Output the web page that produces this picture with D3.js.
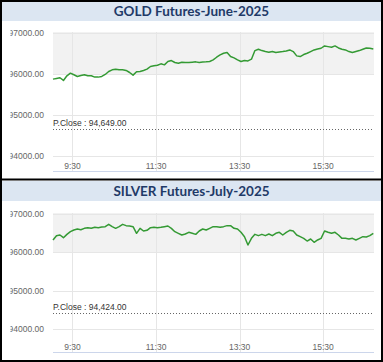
<!DOCTYPE html>
<html>
<head>
<meta charset="utf-8">
<script src="https://cdn.jsdelivr.net/npm/d3@7"></script>
<style>
  body { margin: 0; background: #fff; }
  svg { display: block; }
</style>
</head>
<body>
<svg id="chart" width="383" height="362"></svg>
<script>
// MCX gold / silver intraday snapshot, two stacked panels

var startTime = "9:02";      // first print, 5 minute bars
var stepMinutes = 5;
var yTicks = [94000, 95000, 96000, 97000];
var xTicks = ["9:30", "11:30", "13:30", "15:30"];

var goldTitle = "GOLD Futures-June-2025";
var goldPClose = 94649;
var goldValues = [
  95875, 95892, 95908, 95843, 95956, 96021, 95981, 95940, 95964, 95981,
  95956, 95956, 95924, 95924, 95940, 95989, 96062, 96102, 96118, 96102,
  96102, 96086, 96037, 95972, 96053, 96062, 96086, 96118, 96183, 96199,
  96215, 96248, 96223, 96304, 96328, 96280, 96264, 96288, 96280, 96280,
  96288, 96296, 96280, 96290, 96296, 96304, 96345, 96409, 96466, 96506,
  96523, 96426, 96393, 96345, 96304, 96328, 96320, 96361, 96571, 96604,
  96571, 96547, 96531, 96547, 96523, 96539, 96547, 96563, 96587, 96547,
  96442, 96426, 96474, 96506, 96547, 96587, 96612, 96628, 96685, 96668,
  96652, 96685, 96636, 96604, 96587, 96547, 96523, 96547, 96571, 96604,
  96636, 96628, 96612
];

var silverTitle = "SILVER Futures-July-2025";
var silverPClose = 94424;
var silverValues = [
  96322, 96435, 96452, 96382, 96469, 96539, 96582, 96609, 96591, 96626,
  96643, 96626, 96652, 96643, 96661, 96670, 96730, 96670, 96626, 96670,
  96730, 96696, 96687, 96670, 96496, 96626, 96556, 96574, 96643, 96652,
  96643, 96652, 96670, 96687, 96626, 96539, 96496, 96452, 96478, 96522,
  96496, 96469,
  96556, 96609, 96582, 96626, 96670, 96670, 96652, 96670, 96696, 96696,
  96626, 96609, 96522, 96408, 96191, 96365, 96469, 96435, 96469, 96435,
  96478, 96435, 96496, 96522, 96452, 96522, 96574, 96556, 96452, 96408,
  96365, 96295, 96348, 96261, 96322, 96365, 96556, 96522, 96496, 96522,
  96452, 96365, 96365, 96348, 96365, 96322, 96365, 96408, 96400, 96435,
  96496
];

var parseTime = d3.timeParse("%H:%M");
var fmtPrice = d3.format(".2f");
var fmtClose = d3.format(",.2f");

var svg = d3.select("#chart");

var x = d3.scaleTime()
  .domain([parseTime("9:02"), parseTime("16:43")])
  .range([53, 374]);

function toSeries(values) {
  var t0 = parseTime(startTime);
  return values.map((v, i) => ({ t: d3.timeMinute.offset(t0, i * stepMinutes), v: v }));
}

function drawPanel(opt) {
  var g = svg.append("g");
  var y = d3.scaleLinear().domain([94000, 97000]).range(opt.yRange);

  // title bar
  g.append("rect")
    .attr("x", 2).attr("y", opt.titleTop)
    .attr("width", 379).attr("height", 20)
    .attr("fill", "#dce6f2");
  g.append("text")
    .attr("x", 191.5).attr("y", opt.titleTop + 15)
    .attr("text-anchor", "middle")
    .attr("font-family", "Lato, sans-serif")
    .attr("font-weight", "bold")
    .attr("font-size", 13.5)
    .attr("fill", "#1f3a68")
    .text(opt.title);

  // alternate band on top
  g.append("rect")
    .attr("x", x.range()[0]).attr("y", opt.plotTop)
    .attr("width", x.range()[1] - x.range()[0])
    .attr("height", y(96000) - opt.plotTop)
    .attr("fill", "#f2f2f2");

  // grid
  g.append("g").selectAll("line")
    .data(yTicks).enter().append("line")
    .attr("x1", x.range()[0]).attr("x2", x.range()[1])
    .attr("y1", d => Math.round(y(d)) + 0.5).attr("y2", d => Math.round(y(d)) + 0.5)
    .attr("stroke", "#e6e6e6");
  g.append("g").selectAll("line")
    .data(xTicks).enter().append("line")
    .attr("x1", d => Math.round(x(parseTime(d))) + 0.5).attr("x2", d => Math.round(x(parseTime(d))) + 0.5)
    .attr("y1", opt.plotTop).attr("y2", opt.plotBottom)
    .attr("stroke", "#e6e6e6");

  // x axis line
  g.append("line")
    .attr("x1", x.range()[0]).attr("x2", x.range()[1])
    .attr("y1", opt.plotBottom + 0.5).attr("y2", opt.plotBottom + 0.5)
    .attr("stroke", "#ccd6eb");

  // y labels, cropped at the left like the screenshot
  var clipId = "clip-" + opt.titleTop;
  g.append("clipPath").attr("id", clipId)
    .append("rect").attr("x", 10.5).attr("y", opt.plotTop - 10)
    .attr("width", 42).attr("height", opt.plotBottom - opt.plotTop + 20);
  g.append("g").attr("clip-path", "url(#" + clipId + ")")
    .selectAll("text")
    .data(yTicks).enter().append("text")
    .attr("x", 44).attr("y", d => y(d) + 3)
    .attr("text-anchor", "end")
    .attr("font-family", "Liberation Sans, Arial, sans-serif")
    .attr("font-size", 8.5)
    .attr("fill", "#666")
    .text(d => fmtPrice(d));

  g.append("g").selectAll("text")
    .data(xTicks).enter().append("text")
    .attr("x", d => x(parseTime(d)))
    .attr("y", opt.plotBottom - 2)
    .attr("text-anchor", "middle")
    .attr("font-family", "Liberation Sans, Arial, sans-serif")
    .attr("font-size", 8.5)
    .attr("fill", "#666")
    .text(d => d);

  // previous close
  g.append("line")
    .attr("x1", x.range()[0]).attr("x2", 372)
    .attr("y1", Math.round(y(opt.pclose)) + 0.5).attr("y2", Math.round(y(opt.pclose)) + 0.5)
    .attr("stroke", "#666")
    .attr("stroke-dasharray", "1,2");
  g.append("text")
    .attr("x", x.range()[0]).attr("y", y(opt.pclose) - 3)
    .attr("font-family", "Liberation Sans, Arial, sans-serif")
    .attr("font-size", 8.5)
    .attr("fill", "#333")
    .text("P.Close : " + fmtClose(opt.pclose));

  // price line
  var line = d3.line().x(d => x(d.t)).y(d => y(d.v));
  g.append("path")
    .datum(toSeries(opt.values))
    .attr("d", line)
    .attr("fill", "none")
    .attr("stroke", "#349a34")
    .attr("stroke-width", 1.5)
    .attr("stroke-linejoin", "round");
}

drawPanel({ title: goldTitle, values: goldValues, pclose: goldPClose,
  titleTop: 1, plotTop: 32, plotBottom: 171, yRange: [156, 33] });
drawPanel({ title: silverTitle, values: silverValues, pclose: silverPClose,
  titleTop: 181, plotTop: 213, plotBottom: 352, yRange: [329, 214] });

// frame
svg.append("rect")
  .attr("x", 1).attr("y", 1).attr("width", 381).attr("height", 360)
  .attr("fill", "none").attr("stroke", "#000").attr("stroke-width", 2);
svg.append("line")
  .attr("x1", 0).attr("x2", 383).attr("y1", 179.5).attr("y2", 179.5)
  .attr("stroke", "#000").attr("stroke-width", 2);
</script>
</body>
</html>
